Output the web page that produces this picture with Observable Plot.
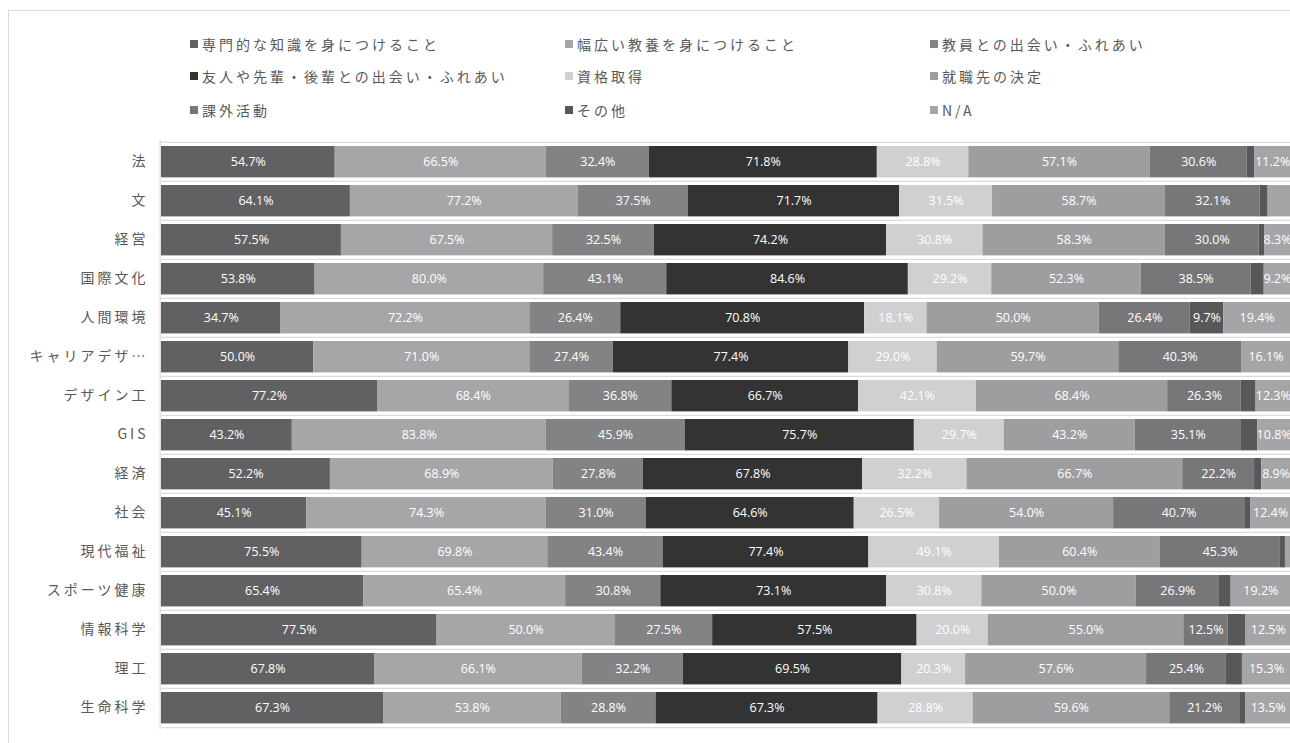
<!DOCTYPE html>
<html><head><meta charset="utf-8">
<script src="https://cdn.jsdelivr.net/npm/d3@7"></script>
<script src="https://cdn.jsdelivr.net/npm/@observablehq/plot@0.6"></script>
<style>
html,body{margin:0;padding:0;background:#fff;}
body{width:1290px;height:743px;position:relative;overflow:hidden;font-family:"Noto Sans CJK JP",sans-serif;}
#frame{position:absolute;left:8px;top:10px;width:1300px;height:800px;border-left:1.5px solid #d9d9d9;border-top:1.5px solid #d9d9d9;}
.li{position:absolute;font-size:14px;letter-spacing:3px;color:#595959;white-space:nowrap;line-height:20px;display:flex;align-items:center;}
.sw{width:8px;height:8px;margin-right:4px;display:inline-block;}
#chart{position:absolute;left:0;top:130px;}
g[aria-label="y-axis tick label"] text{letter-spacing:3px;}
</style></head><body>
<div id="frame"></div><div id="legend"></div><div id="chart"></div>
<script>
const categories = ["法","文","経営","国際文化","人間環境","キャリアデザイン","デザイン工","GIS","経済","社会","現代福祉","スポーツ健康","情報科学","理工","生命科学"];
const seriesNames = ["専門的な知識を身につけること","幅広い教養を身につけること","教員との出会い・ふれあい","友人や先輩・後輩との出会い・ふれあい","資格取得","就職先の決定","課外活動","その他","N/A"];
const seriesColors = ["#616163","#a6a6a8","#838385","#333333","#d0d0d2","#9e9ea1","#77777a","#58585a","#a5a5a7"];

const senmon   = [54.7,64.1,57.5,53.8,34.7,50.0,77.2,43.2,52.2,45.1,75.5,65.4,77.5,67.8,67.3];
const habahiroi= [66.5,77.2,67.5,80.0,72.2,71.0,68.4,83.8,68.9,74.3,69.8,65.4,50.0,66.1,53.8];
const kyoin    = [32.4,37.5,32.5,43.1,26.4,27.4,36.8,45.9,27.8,31.0,43.4,30.8,27.5,32.2,28.8];
const yujin    = [71.8,71.7,74.2,84.6,70.8,77.4,66.7,75.7,67.8,64.6,77.4,73.1,57.5,69.5,67.3];
const shikaku  = [28.8,31.5,30.8,29.2,18.1,29.0,42.1,29.7,32.2,26.5,49.1,30.8,20.0,20.3,28.8];
const shushoku = [57.1,58.7,58.3,52.3,50.0,59.7,68.4,43.2,66.7,54.0,60.4,50.0,55.0,57.6,59.6];
const kagai    = [30.6,32.1,30.0,38.5,26.4,40.3,26.3,35.1,22.2,40.7,45.3,26.9,12.5,25.4,21.2];
const sonota   = [2.4,2.7,1.7,4.6,9.7,0,5.3,5.4,2.2,1.8,1.9,3.8,5.0,5.1,1.9];
const na       = [11.2,7.6,8.3,9.2,19.4,16.1,12.3,10.8,8.9,12.4,1.9,19.2,12.5,15.3,13.5];
const seriesValues = [senmon,habahiroi,kyoin,yujin,shikaku,shushoku,kagai,sonota,na];

// legend
const legend = document.getElementById("legend");
const colX = [190,565,930], rowY = [44,76,110];
seriesNames.forEach((s,i)=>{
  const d = document.createElement("div");
  d.className = "li";
  d.style.left = colX[i%3]+"px";
  d.style.top = (rowY[Math.floor(i/3)]-10)+"px";
  d.innerHTML = `<span class="sw" style="background:${seriesColors[i]}"></span>${s}`;
  legend.appendChild(d);
});

// table
const rows = [];
categories.forEach((c,ci)=>{
  const total = d3.sum(seriesValues, v=>v[ci]);
  seriesNames.forEach((s,si)=>{
    rows.push({cat:c, series:s, value:seriesValues[si][ci], share:seriesValues[si][ci]/total});
  });
});

const W = 1290, H = 613, mT = 9.5, mB = 13.4;
const step = (H - mT - mB)/categories.length;

const chart = Plot.plot({
  width: W, height: H,
  marginLeft: 161, marginRight: 0, marginTop: mT, marginBottom: mB,
  style: {fontFamily: "'Noto Sans CJK JP', sans-serif", fontSize: "14px", color: "#595959", background: "transparent"},
  x: {axis: null, domain: [0,1]},
  y: {domain: categories, padding: 0, label: null},
  color: {domain: seriesNames, range: seriesColors},
  marks: [
    Plot.ruleY(categories, {y: d=>d, dy: -step/2, stroke: "#dcdcdc", strokeWidth: 1.3}),
    Plot.ruleY([categories[categories.length-1]], {y: d=>d, dy: step/2, stroke: "#dcdcdc", strokeWidth: 1.3}),
    Plot.ruleX([0], {dx: -1.3, stroke: "#dcdcdc", strokeWidth: 1.3}),
    Plot.barX(rows, Plot.stackX({x: "value", y: "cat", fill: "series", offset: "normalize", order: null, insetTop: 4, insetBottom: 3.6})),
    Plot.text(rows, Plot.stackX({x: "value", y: "cat", z: "series", offset: "normalize", order: null,
      text: d => d.share > 0.021 ? d.value.toFixed(1) + "%" : "",
      fill: "white", fontSize: 12.5, fontWeight: 400, fontFamily: "'Open Sans', sans-serif"})),
    Plot.axisY({tickSize: 0, tickPadding: 13, fontSize: 14, tickFormat: d => d.length > 6 ? d.slice(0,6) + "…" : d})
  ]
});
document.getElementById("chart").appendChild(chart);
</script></body></html>
